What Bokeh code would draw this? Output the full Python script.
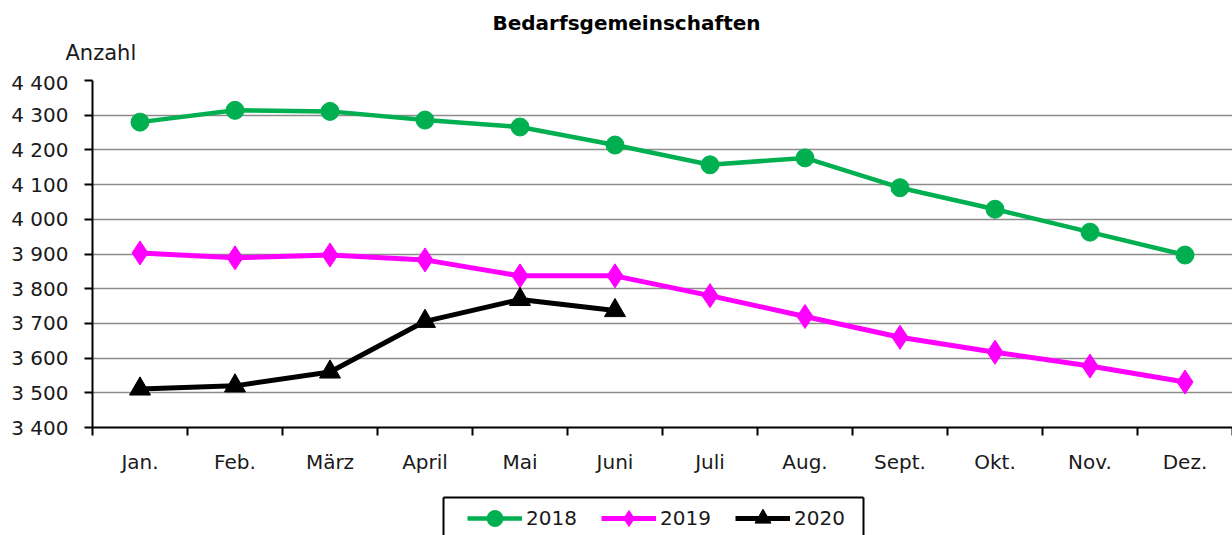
from bokeh.plotting import figure
from bokeh.models import (Range1d, FixedTicker, Legend, LegendItem, Label, LinearAxis)
from bokeh.embed import file_html
from bokeh.resources import INLINE

months = ["Jan.", "Feb.", "März", "April", "Mai", "Juni", "Juli", "Aug.", "Sept.", "Okt.", "Nov.", "Dez."]
v2018 = [4280, 4314, 4311, 4286, 4266, 4214, 4157, 4177, 4091, 4029, 3963, 3897]
v2019 = [3903, 3889, 3897, 3883, 3837, 3837, 3780, 3720, 3660, 3617, 3577, 3531]
v2020 = [3511, 3520, 3560, 3706, 3769, 3737]
series_names = ["2018", "2019", "2020"]
y_ticks = [3400, 3500, 3600, 3700, 3800, 3900, 4000, 4100, 4200, 4300, 4400]
y_tick_labels = ["3 400", "3 500", "3 600", "3 700", "3 800", "3 900", "4 000", "4 100", "4 200", "4 300", "4 400"]
title_text = "Bedarfsgemeinschaften"
y_title = "Anzahl"

FONT = "DejaVu Sans"
GREEN = "#00B050"
MAGENTA = "#FF00FF"
BLACK = "#000000"
TXT = "#1a1a1a"


def bare_figure(height, **borders):
    f = figure(width=1232, height=height, output_backend="svg", toolbar_location=None,
               x_range=Range1d(0, 1), y_range=Range1d(0, 1),
               x_axis_type=None, y_axis_type=None, **borders)
    f.outline_line_color = None
    f.xgrid.visible = False
    f.ygrid.visible = False
    f.background_fill_color = "white"
    f.border_fill_color = "white"
    return f


# ---------------- title strip ----------------
pt = bare_figure(70, min_border_left=0, min_border_right=0, min_border_top=0, min_border_bottom=0)
pt.add_layout(Label(x=626, y=48, x_units="screen", y_units="screen", text=title_text,
                    text_align="center", text_baseline="middle", text_font=FONT,
                    text_font_size="20px", text_font_style="bold", text_color="black"))
pt.add_layout(Label(x=65, y=18, x_units="screen", y_units="screen", text=y_title,
                    text_align="left", text_baseline="middle", text_font=FONT,
                    text_font_size="21px", text_color=TXT))

# ---------------- main chart ----------------
p = figure(width=1232, height=406, output_backend="svg", toolbar_location=None,
           x_range=Range1d(0.5, 12.5), y_range=Range1d(3400, 4400),
           min_border_left=92, min_border_right=0, min_border_top=10, min_border_bottom=46)
p.outline_line_color = None
p.background_fill_color = "white"
p.border_fill_color = "white"

xs = list(range(1, len(months) + 1))

p.xgrid.visible = False
p.ygrid.ticker = FixedTicker(ticks=y_ticks)
p.ygrid.grid_line_color = "#8c8c8c"
p.ygrid.grid_line_width = 1.5

ya = p.yaxis[0]
ya.ticker = FixedTicker(ticks=y_ticks)
ya.major_label_overrides = {t: l for t, l in zip(y_ticks, y_tick_labels)}
ya.axis_line_color = "black"
ya.axis_line_width = 2
ya.major_tick_line_color = "black"
ya.major_tick_line_width = 2
ya.major_tick_out = 8
ya.major_tick_in = 0
ya.minor_tick_line_color = None
ya.major_label_standoff = 16
ya.major_label_text_font = FONT
ya.major_label_text_font_size = "20px"
ya.major_label_text_color = TXT

xa = p.xaxis[0]
xa.ticker = FixedTicker(ticks=xs, minor_ticks=[x - 0.5 for x in xs] + [len(xs) + 0.5])
xa.major_label_overrides = {x: m for x, m in zip(xs, months)}
xa.axis_line_color = "black"
xa.axis_line_width = 2
xa.major_tick_line_color = None
xa.major_tick_out = 0
xa.major_tick_in = 0
xa.minor_tick_line_color = "black"
xa.minor_tick_line_width = 2
xa.minor_tick_out = 8
xa.minor_tick_in = 0
xa.major_label_standoff = 14
xa.major_label_text_font = FONT
xa.major_label_text_font_size = "20px"
xa.major_label_text_color = TXT

styles = [
    dict(color=GREEN, lw=4.5, marker="circle", size=18),
    dict(color=MAGENTA, lw=5, marker="diamond", size=24),
    dict(color=BLACK, lw=5, marker="triangle", size=21),
]
data = [v2018, v2019, v2020]

for vals, st in zip(data, styles):
    xv = xs[:len(vals)]
    p.line(xv, vals, line_color=st["color"], line_width=st["lw"])
    p.scatter(xv, vals, marker=st["marker"], size=st["size"],
              fill_color=st["color"], line_color=st["color"])

# ---------------- legend strip ----------------
p2 = bare_figure(59, min_border_left=443, min_border_right=369, min_border_top=21, min_border_bottom=0)

# legend box edges (top, left, right) drawn as bare axis lines
for side in ["above", "left", "right"]:
    ax = LinearAxis(ticker=FixedTicker(ticks=[]), axis_line_color="black", axis_line_width=2,
                    major_tick_line_color=None, minor_tick_line_color=None,
                    major_label_text_font_size="0px")
    p2.add_layout(ax, side)

items = []
for name, vals, st in zip(series_names, data, styles):
    xv = xs[:len(vals)]
    lr = p2.line(xv, vals, line_color=st["color"], line_width=st["lw"])
    sr = p2.scatter(xv, vals, marker=st["marker"], size=st["size"],
                    fill_color=st["color"], line_color=st["color"])
    items.append(LegendItem(label=name, renderers=[lr, sr]))

legend = Legend(items=items, orientation="horizontal", location=(24, -3),
                border_line_color=None, background_fill_alpha=0,
                label_text_font=FONT, label_text_font_size="20px", label_text_color=TXT,
                glyph_width=55, glyph_height=40, label_standoff=4, spacing=23, padding=0,
                margin=0, label_height=40, label_width=52)
p2.add_layout(legend, "center")

open("out.html", "w").write(file_html([pt, p, p2], INLINE))
